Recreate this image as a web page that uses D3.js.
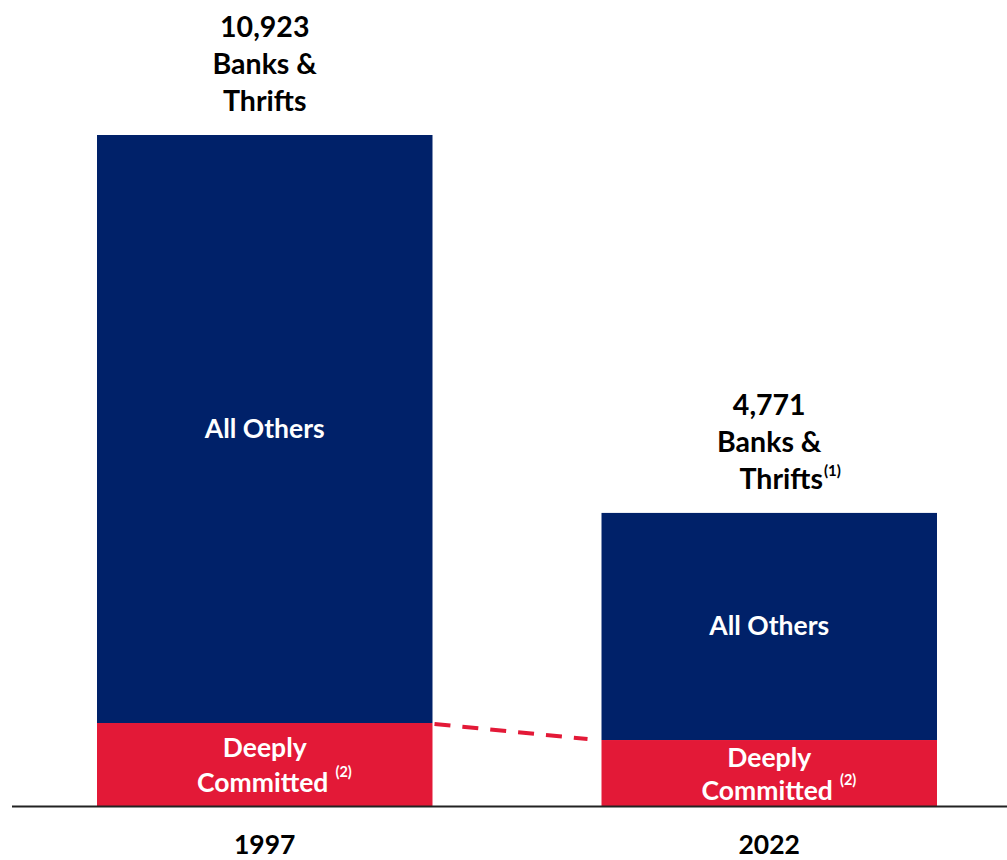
<!DOCTYPE html>
<html>
<head>
<meta charset="utf-8">
<script src="https://cdn.jsdelivr.net/npm/d3@7"></script>
<style>
  body { margin: 0; background: #fff; }
  svg text { font-family: Lato, "Open Sans", sans-serif; font-weight: 700; }
</style>
</head>
<body>
<div id="chart"></div>
<script>
const years = ["1997", "2022"];
const totals = [10923, 4771];
const deeplyCommitted = [1351, 1074];
const totalLabels = ["10,923", "4,771"];
const totalNotes = ["", "(1)"];

const width = 1007, height = 860;
const baseY = 806;

const svg = d3.select("#chart").append("svg")
    .attr("width", width)
    .attr("height", height);

const x = d3.scaleBand()
    .domain(years)
    .range([97, 937])
    .paddingInner(0.335)
    .paddingOuter(0);

const y = d3.scaleLinear()
    .domain([0, 10923])
    .range([baseY, 135]);

const navy = "#002169";
const red = "#e31937";

const data = years.map((yr, i) => ({
    year: yr, total: totals[i], deep: deeplyCommitted[i],
    label: totalLabels[i], note: totalNotes[i]
}));

const cx = d => x(d.year) + x.bandwidth() / 2;

// all others (top part)
svg.selectAll(".others")
    .data(data)
    .enter().append("rect")
    .attr("class", "others")
    .attr("x", d => x(d.year))
    .attr("y", d => y(d.total))
    .attr("width", x.bandwidth())
    .attr("height", d => y(d.deep) - y(d.total))
    .attr("fill", navy);

// deeply committed (bottom part)
svg.selectAll(".deep")
    .data(data)
    .enter().append("rect")
    .attr("class", "deep")
    .attr("x", d => x(d.year))
    .attr("y", d => y(d.deep))
    .attr("width", x.bandwidth())
    .attr("height", d => y(0) - y(d.deep))
    .attr("fill", red);

// dashed connector
svg.append("line")
    .attr("x1", x(years[0]) + x.bandwidth() + 2)
    .attr("y1", y(deeplyCommitted[0]) + 1)
    .attr("x2", x(years[1]) - 14)
    .attr("y2", y(deeplyCommitted[1]) - 1)
    .attr("stroke", red)
    .attr("stroke-width", 4)
    .attr("stroke-dasharray", "16,12");

// baseline
svg.append("line")
    .attr("x1", 12).attr("x2", width)
    .attr("y1", baseY + 0.5).attr("y2", baseY + 0.5)
    .attr("stroke", "#222")
    .attr("stroke-width", 2);

// text centred on cx, with an optional superscript hanging after it
function labelWithSup(sel, main, sup, opts) {
    sel.each(function(d) {
        const g = d3.select(this);
        const t = g.append("text")
            .attr("x", opts.dx || 0)
            .attr("y", opts.y(d))
            .attr("text-anchor", "middle")
            .attr("fill", opts.fill)
            .style("font-size", opts.size + "px")
            .text(main);
        const s = sup(d);
        if (s) {
            const w = t.node().getComputedTextLength();
            g.append("text")
                .attr("x", (opts.dx || 0) + w / 2 + opts.gap)
                .attr("y", opts.y(d) + opts.supDy)
                .attr("fill", opts.fill)
                .style("font-size", opts.supSize + "px")
                .text(s);
        }
    });
}

// total labels above bars
const topLabels = svg.selectAll(".top")
    .data(data)
    .enter().append("g")
    .attr("class", "top")
    .attr("transform", d => `translate(${cx(d)},${y(d.total)})`);

topLabels.append("text")
    .attr("y", -98).attr("text-anchor", "middle")
    .style("font-size", "28.5px").attr("fill", "#000")
    .text(d => d.label);
topLabels.append("text")
    .attr("y", -61).attr("text-anchor", "middle")
    .style("font-size", "28.5px").attr("fill", "#000")
    .text("Banks &");
topLabels.append("g")
    .attr("transform", d => `translate(${d.note ? 12 : 0},0)`)
    .call(labelWithSup, "Thrifts", d => d.note, {
        y: () => -24, fill: "#000", size: 28.5,
        gap: 1, supDy: -13, supSize: 15
    });

// "All Others" labels
svg.selectAll(".others-label")
    .data(data)
    .enter().append("text")
    .attr("class", "others-label")
    .attr("x", cx)
    .attr("y", d => (y(d.total) + y(d.deep)) / 2 + 9)
    .attr("text-anchor", "middle")
    .attr("fill", "#fff")
    .style("font-size", "26.5px")
    .text("All Others");

// "Deeply Committed" labels
const deepLabels = svg.selectAll(".deep-label")
    .data(data)
    .enter().append("g")
    .attr("class", "deep-label")
    .attr("transform", d => `translate(${cx(d)},${y(0)})`);
deepLabels.append("text")
    .attr("y", (d, i) => i === 0 ? -49 : -39)
    .attr("text-anchor", "middle")
    .attr("fill", "#fff")
    .style("font-size", "26.5px")
    .text("Deeply");
deepLabels.append("g")
    .call(labelWithSup, "Committed", () => "(2)", {
        dx: -2,
        y: (d) => d.year === "1997" ? -14 : -6,
        fill: "#fff", size: 26.5,
        gap: 7, supDy: -15, supSize: 14.5
    });

// year labels
svg.selectAll(".year")
    .data(data)
    .enter().append("text")
    .attr("class", "year")
    .attr("x", cx)
    .attr("y", 854)
    .attr("text-anchor", "middle")
    .attr("fill", "#000")
    .style("font-size", "26.5px")
    .text(d => d.year);
</script>
</body>
</html>
